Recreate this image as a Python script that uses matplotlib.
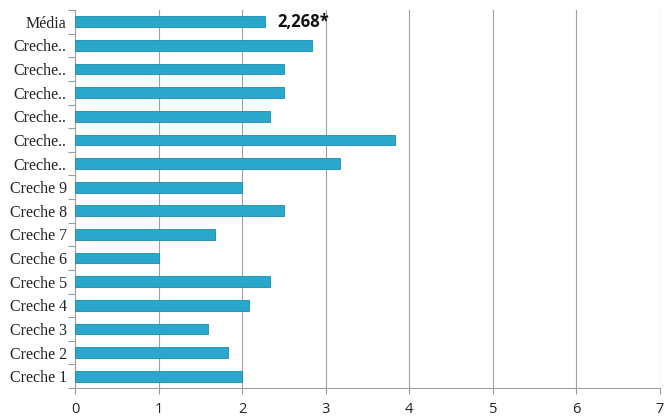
import matplotlib
matplotlib.use("Agg")
import matplotlib.pyplot as plt
import numpy as np

categories = ["Creche 1", "Creche 2", "Creche 3", "Creche 4", "Creche 5", "Creche 6",
              "Creche 7", "Creche 8", "Creche 9", "Creche..", "Creche..", "Creche..",
              "Creche..", "Creche..", "Creche..", "Média"]
values = [2.0, 1.83, 1.59, 2.08, 2.33, 1.0, 1.67, 2.5, 2.0, 3.17, 3.83, 2.33, 2.5, 2.5, 2.84, 2.268]
annotation = "2,268*"
xticks = [0, 1, 2, 3, 4, 5, 6, 7]

fig = plt.figure(figsize=(6.64, 4.17), dpi=100)
ax = fig.add_axes([75/664, 1-388/417, 585/664, 378/417])

y = np.arange(len(categories))
ax.barh(y, values, height=0.46, color="#29a8cb", edgecolor="#1f8bab", linewidth=0.6, zorder=3)

ax.set_xlim(0, 7)
ax.set_ylim(-0.5, len(categories) - 0.5)
ax.set_xticks(xticks)
ax.set_xticklabels([str(t) for t in xticks], family="Open Sans", fontsize=10.5, color="#222222")
ax.set_yticks(y)
ax.set_yticklabels(categories, family="Liberation Serif", fontsize=11.5, color="#222222")
ax.set_yticks(np.arange(-0.5, len(categories), 1), minor=True)
ax.tick_params(axis="y", which="major", length=0, pad=6)
ax.tick_params(axis="y", which="minor", length=5, color="#999999", width=0.8)
ax.tick_params(axis="x", which="major", length=4, color="#999999", width=0.8, pad=6)

ax.grid(axis="x", color="#a0a0a0", linewidth=0.8, zorder=0)
for s in ["top", "right"]:
    ax.spines[s].set_visible(False)
for s in ["left", "bottom"]:
    ax.spines[s].set_color("#a0a0a0")
    ax.spines[s].set_linewidth(0.8)

ax.text(2.42, y[-1], annotation, family="Open Sans", fontweight="bold", fontsize=12,
        va="center", ha="left", color="#111111", zorder=4)

fig.savefig("out.png", dpi=100)
